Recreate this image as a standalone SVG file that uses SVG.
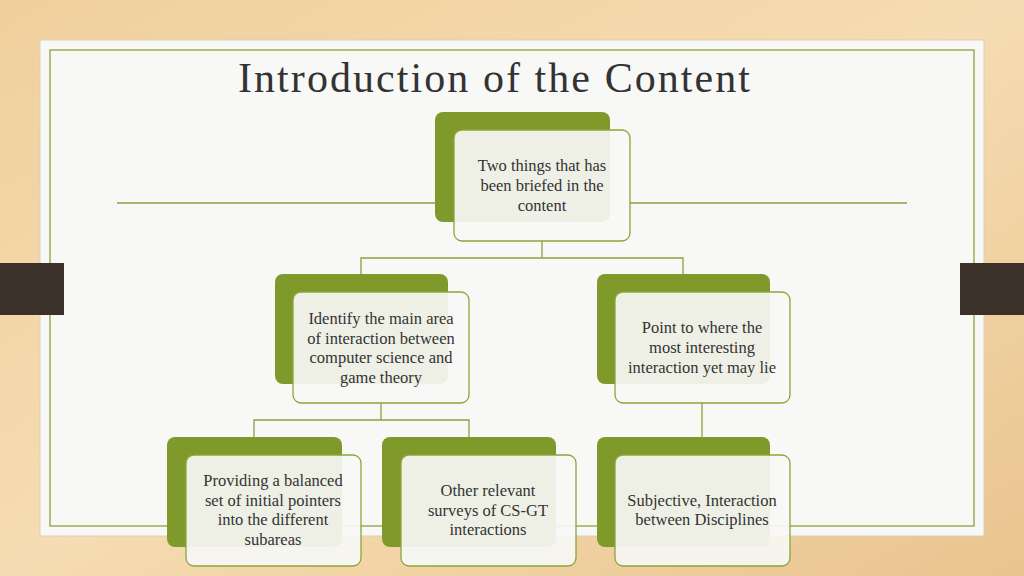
<svg xmlns="http://www.w3.org/2000/svg" width="1024" height="576" viewBox="0 0 1024 576">
<defs>
<linearGradient id="bg" x1="0" y1="0" x2="1" y2="1">
<stop offset="0" stop-color="#f0cf9c"/><stop offset="0.5" stop-color="#f6dcb2"/><stop offset="1" stop-color="#e9c48e"/>
</linearGradient>
</defs>
<style>
.g{fill:#7f9a2b}
.w{fill:#f7f7f5;fill-opacity:0.92;stroke:#8aa63a;stroke-width:1.3}
.t{font-family:"Liberation Serif",serif;font-size:16.5px;fill:#333;text-anchor:middle}
.c{fill:none;stroke:#8aa040;stroke-width:1.3}
</style>
<rect width="1024" height="576" fill="url(#bg)"/>
<rect x="40" y="40" width="944" height="496" fill="#f8f8f6" stroke="#d8d0c0"/>
<rect x="50" y="50" width="924" height="476" fill="none" stroke="#8aa040" stroke-width="1.3"/>
<rect x="0" y="263" width="64" height="52" fill="#3b3129"/>
<rect x="960" y="263" width="64" height="52" fill="#3b3129"/>
<text x="238" y="92" font-family="Liberation Serif,serif" font-size="42" fill="#333" textLength="512" lengthAdjust="spacing">Introduction of the Content</text>
<g id="connectors" class="c">
<path d="M117 203H435M630 203H907"/>
<path d="M542 241V258M361 274V258H683V274"/>
<path d="M381 403V420M254 437V420H469V437"/>
<path d="M702 403V437"/>
</g>
<g id="n0"><rect class="g" x="435" y="112" width="175" height="110" rx="8"/><rect class="w" x="454" y="130" width="176" height="111" rx="8"/>
<text class="t"><tspan x="542" y="171">Two things that has</tspan><tspan x="542" y="191">been briefed in the</tspan><tspan x="542" y="211">content</tspan></text></g>
<g id="n1"><rect class="g" x="275" y="274" width="173" height="110" rx="8"/><rect class="w" x="293" y="292" width="176" height="111" rx="8"/>
<text class="t"><tspan x="381" y="324">Identify the main area</tspan><tspan x="381" y="344">of interaction between</tspan><tspan x="381" y="363">computer science and</tspan><tspan x="381" y="383">game theory</tspan></text></g>
<g id="n2"><rect class="g" x="597" y="274" width="173" height="110" rx="8"/><rect class="w" x="615" y="292" width="175" height="111" rx="8"/>
<text class="t"><tspan x="702" y="333">Point to where the</tspan><tspan x="702" y="353">most interesting</tspan><tspan x="702" y="373">interaction yet may lie</tspan></text></g>
<g id="n3"><rect class="g" x="167" y="437" width="175" height="110" rx="8"/><rect class="w" x="186" y="455" width="175" height="111" rx="8"/>
<text class="t"><tspan x="273" y="486">Providing a balanced</tspan><tspan x="273" y="506">set of initial pointers</tspan><tspan x="273" y="525">into the different</tspan><tspan x="273" y="545">subareas</tspan></text></g>
<g id="n4"><rect class="g" x="382" y="437" width="174" height="110" rx="8"/><rect class="w" x="401" y="455" width="175" height="111" rx="8"/>
<text class="t"><tspan x="488" y="496">Other relevant</tspan><tspan x="488" y="516">surveys of CS-GT</tspan><tspan x="488" y="535">interactions</tspan></text></g>
<g id="n5"><rect class="g" x="597" y="437" width="173" height="110" rx="8"/><rect class="w" x="615" y="455" width="175" height="111" rx="8"/>
<text class="t"><tspan x="702" y="506">Subjective, Interaction</tspan><tspan x="702" y="525">between Disciplines</tspan></text></g>
</svg>
